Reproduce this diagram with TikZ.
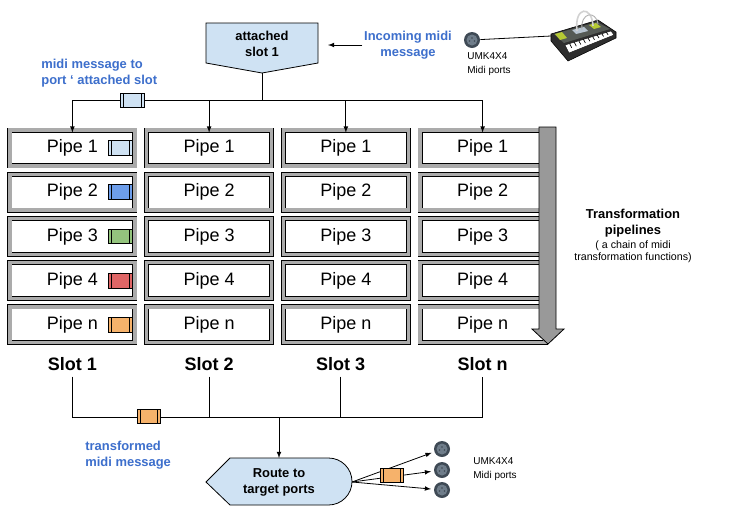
\documentclass[tikz,border=0pt]{standalone}
\usepackage{fontspec}
\setmainfont{Liberation Sans}
\usepackage{tikz}
\usetikzlibrary{matrix,positioning,calc}

\definecolor{msgblue}{HTML}{3D6FCC}
\definecolor{boxblue}{HTML}{CFE2F3}
\definecolor{pipegrey}{HTML}{ABABAB}
\definecolor{flowgrey}{HTML}{999999}
\definecolor{msgcblue}{HTML}{6D9EEB}
\definecolor{msggreen}{HTML}{93C47D}
\definecolor{msgred}{HTML}{E06666}
\definecolor{msgorange}{HTML}{F6B26B}
\definecolor{portring}{HTML}{3F4A55}
\definecolor{portface}{HTML}{6F7D8A}
\definecolor{synthbody}{HTML}{2E2E2E}
\definecolor{synthpanel}{HTML}{555A55}
\definecolor{synthlime}{HTML}{B5C934}

\begin{document}
\begin{tikzpicture}[x=0.75pt, y=-0.75pt, line width=0.6pt, >=latex,
  pipe/.style={draw, double=pipegrey, double distance=2.6pt, fill=white,
    minimum width=93.7pt, minimum height=26.9pt, inner sep=0pt, outer sep=0pt,
    font=\fontsize{13.5}{16}\selectfont},
  msg/.style={draw, minimum width=17.5pt, minimum height=11pt, inner sep=0pt,
    path picture={\draw ([xshift=2.2pt]path picture bounding box.south west) -- ([xshift=2.2pt]path picture bounding box.north west)
      ([xshift=-2.2pt]path picture bounding box.south east) -- ([xshift=-2.2pt]path picture bounding box.north east);}},
  slot/.style={font=\bfseries\fontsize{13.5}{16}\selectfont, inner sep=0pt, outer ysep=4.5pt},
  note/.style={text=msgblue, font=\bfseries\fontsize{9.7}{12}\selectfont, inner sep=0pt},
  label/.style={font=\bfseries\fontsize{9.7}{12}\selectfont, inner sep=0pt, align=center},
  small/.style={font=\fontsize{7.5}{10.5}\selectfont, inner sep=0pt},
  port/.style={circle, fill=portring, minimum size=12pt, inner sep=0pt,
    path picture={\fill[portface] (path picture bounding box.center) circle (5.5);
      \fill[portring] (path picture bounding box.center) ++(-2.5,1) circle (0.9) ++(2.5,-3) circle (0.9) ++(2.5,3) circle (0.9);}}]
  \path[use as bounding box, fill=white] (0,0) rectangle (739,522);

  % pipes of each slot
  \matrix (pipes) [row sep=2.45pt, column sep=5.05pt, inner sep=0pt, outer sep=0pt] at (277.5,236.4) {
  \node (p11) [pipe] {Pipe 1}; & \node (p12) [pipe] {Pipe 1}; & \node (p13) [pipe] {Pipe 1}; & \node (p14) [pipe] {Pipe 1}; \\
  \node (p21) [pipe] {Pipe 2}; & \node (p22) [pipe] {Pipe 2}; & \node (p23) [pipe] {Pipe 2}; & \node (p24) [pipe] {Pipe 2}; \\
  \node (p31) [pipe] {Pipe 3}; & \node (p32) [pipe] {Pipe 3}; & \node (p33) [pipe] {Pipe 3}; & \node (p34) [pipe] {Pipe 3}; \\
  \node (p41) [pipe] {Pipe 4}; & \node (p42) [pipe] {Pipe 4}; & \node (p43) [pipe] {Pipe 4}; & \node (p44) [pipe] {Pipe 4}; \\
  \node (p51) [pipe] {Pipe n}; & \node (p52) [pipe] {Pipe n}; & \node (p53) [pipe] {Pipe n}; & \node (p54) [pipe] {Pipe n}; \\};
  \node (msg1) [msg, fill=boxblue, left=1.9pt of p11.east] {};
  \node (msg2) [msg, fill=msgcblue, left=1.9pt of p21.east] {};
  \node (msg3) [msg, fill=msggreen, left=1.9pt of p31.east] {};
  \node (msg4) [msg, fill=msgred, left=1.9pt of p41.east] {};
  \node (msg5) [msg, fill=msgorange, left=1.9pt of p51.east] {};
  \draw[fill=flowgrey] (539,127) -- (556,127) -- (556,329) -- (564,329) -- (548,344) -- (532,329) -- (539,329) -- cycle;

  % incoming side
  \draw[fill=boxblue] (206,23) -- (318,23) -- (318,63) -- (262,73) -- (206,63) -- cycle;
  \node (attached) [label] at (262,44) {attached\\slot 1};
  \coordinate (attpt) at (262,73);
  \coordinate (attright) at (318,44);
  \coordinate (topbus) at (262,100);
  \draw (attpt) -- (topbus);
  \draw (p11.north |- topbus) -- (p14.north |- topbus);
  \draw[->, shorten >=-1.9pt] (p11.north |- topbus) -- (p11.north);
  \draw[->, shorten >=-1.9pt] (p12.north |- topbus) -- (p12.north);
  \draw[->, shorten >=-1.9pt] (p13.north |- topbus) -- (p13.north);
  \draw[->, shorten >=-1.9pt] (p14.north |- topbus) -- (p14.north);
  \node (msgin) [msg, fill=boxblue] at (132.5,100.5) {};
  \node (portnote) [note, anchor=west, align=left] at (41,73) {midi message to\\port ‘ attached slot};
  \node (incoming) [note, align=center] at (408,45) {Incoming midi\\message};
  \draw[->, shorten <=1pt, shorten >=7.5pt] (incoming.west) -- (incoming.west -| attright);
  \node (port0) [port] at (472,40) {};
  \node (umkin) [small, anchor=west, align=left] at (467,64) {UMK4X4\\Midi ports};
  \coordinate (synth) at (551,36);
  \draw (port0) -- (synth);

  % synth
  \draw[fill=synthbody, line width=0.4pt] (551,34) -- (598,20) -- (616,32) -- (616,38) -- (568,61) -- (551,41) -- cycle;
  \fill[synthpanel] (554,34) -- (597,22) -- (610,29) -- (564,43) -- cycle;
  \fill[synthlime] (555,34) -- (562,32) -- (567,38) -- (560,40) -- cycle;
  \fill[synthlime] (589,25) -- (596,23) -- (601,27) -- (594,29) -- cycle;
  \fill[boxblue!70!gray] (572,30) -- (584,27) -- (588,31) -- (576,34) -- cycle;
  \draw[fill=white, line width=0.3pt] (565,45) -- (611,31) -- (614,35) -- (569,53) -- cycle;
  \foreach \t in {0.1,0.2,...,0.9}
    \draw[line width=0.5pt] ($(565,45)!\t!(611,31)$) -- ($($(565,45)!\t!(611,31)$)!0.55!($(569,53)!\t!(614,35)$)$);
  \draw[gray!35, line width=1.2pt] (577,31) .. controls (574,6) and (592,5) .. (593,26);
  \draw[gray!60, line width=0.7pt] (582,30) .. controls (580,12) and (596,10) .. (598,24);

  % transformation note
  \node (pipetitle) [label] at (633,223) {Transformation\\pipelines};
  \node (pipenote) [small, font=\fontsize{8}{9}\selectfont, align=center] at (633,252) {( a chain of midi\\transformation functions)};

  % slots and routing
  \node (slot1) [slot, below=6.5pt of p51] {Slot 1};
  \node (slot2) [slot, below=6.5pt of p52] {Slot 2};
  \node (slot3) [slot, below=6.5pt of p53, xshift=-4pt] {Slot 3};
  \node (slot4) [slot, below=6.5pt of p54] {Slot n};
  \coordinate (botbus) at (279,417);
  \draw (slot1.south) -- (slot1.south |- botbus) -- (slot4.south |- botbus) -- (slot4.south);
  \draw (slot2.south) -- (slot2.south |- botbus);
  \draw (slot3.south) -- (slot3.south |- botbus);
  \node (msgbus) [msg, fill=msgorange] at (149,416.5) {};
  \node (trnote) [note, anchor=west, align=left] at (85,455) {transformed\\midi message};
  \draw[fill=boxblue] (206,482) -- (230,458) -- (328.5,458) arc[start angle=-90, end angle=90, radius=23.5] -- (230,505) -- cycle;
  \node (route) [label] at (279,482) {Route to\\target ports};
  \coordinate (routetop) at (279,458);
  \coordinate (routeend) at (352,482);
  \draw[->] (botbus) -- (routetop);
  \node (port1) [port] at (442,449) {};
  \node (port2) [port] at (442,470) {};
  \node (port3) [port] at (442,490) {};
  \draw[->, shorten >=2pt] (routeend) -- (port1);
  \draw[->, shorten >=2pt] (routeend) -- (port2);
  \draw[->, shorten >=2pt] (routeend) -- (port3);
  \node (msgout) [msg, fill=msgorange] at (392,475.5) {};
  \node (umkout) [small, anchor=west, align=left] at (473,469) {UMK4X4\\Midi ports};
\end{tikzpicture}
\end{document}
